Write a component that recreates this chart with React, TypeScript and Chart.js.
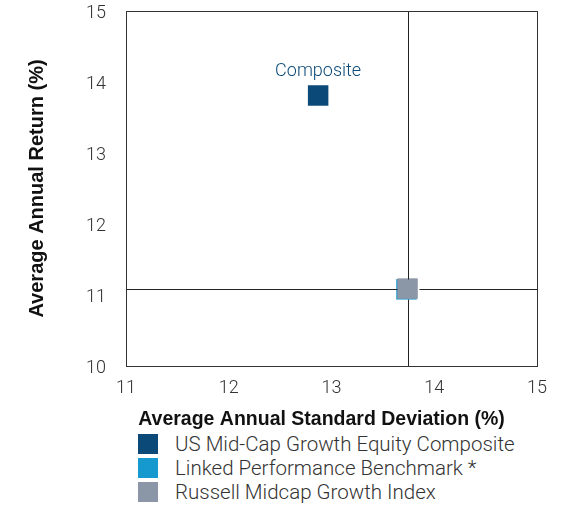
import React, { useEffect, useRef } from "react";
import { Chart, registerables } from "chart.js";

Chart.register(...registerables);

const seriesNames = [
  "US Mid-Cap Growth Equity Composite",
  "Linked Performance Benchmark *",
  "Russell Midcap Growth Index",
];
const seriesColors = ["#0b4a78", "#1699cf", "#8b97a7"];
const stdDev = [12.87, 13.73, 13.74];
const avgReturn = [13.81, 11.08, 11.09];
const xTicks = [11, 12, 13, 14, 15];
const yTicks = [10, 11, 12, 13, 14, 15];
const pointLabel = "Composite";
const xTitle = "Average Annual Standard Deviation (%)";
const yTitle = "Average Annual Return (%)";

const LIGHT = "Roboto, 'Liberation Sans', Arial, sans-serif";
const BOLD = "'Liberation Sans', Arial, sans-serif";

export default function App() {
  const ref = useRef<HTMLCanvasElement | null>(null);

  useEffect(() => {
    if (!ref.current) return;
    const plugin = {
      id: "decor",
      afterDatasetsDraw(chart: any) {
        const { ctx, chartArea, scales } = chart;
        const xs = scales.x;
        const ys = scales.y;
        ctx.save();
        // crosshair through the index point
        ctx.strokeStyle = "#222";
        ctx.lineWidth = 1;
        const cx = Math.round(xs.getPixelForValue(stdDev[2])) + 0.5;
        const cy = Math.round(ys.getPixelForValue(avgReturn[2])) + 0.5;
        ctx.beginPath();
        ctx.moveTo(cx, chartArea.top);
        ctx.lineTo(cx, cy - 10);
        ctx.moveTo(cx, cy + 10);
        ctx.lineTo(cx, chartArea.bottom);
        ctx.moveTo(chartArea.left, cy);
        ctx.lineTo(cx - 11, cy);
        ctx.moveTo(cx + 11, cy);
        ctx.lineTo(chartArea.right, cy);
        ctx.stroke();
        // frame
        ctx.strokeStyle = "#333";
        ctx.strokeRect(
          Math.round(chartArea.left) + 0.5,
          Math.round(chartArea.top) + 0.5,
          Math.round(chartArea.right - chartArea.left),
          Math.round(chartArea.bottom - chartArea.top)
        );
        // data label
        ctx.fillStyle = seriesColors[0];
        ctx.font = `300 18px ${LIGHT}`;
        ctx.textAlign = "center";
        ctx.textBaseline = "alphabetic";
        ctx.fillText(
          pointLabel,
          xs.getPixelForValue(stdDev[0]),
          ys.getPixelForValue(avgReturn[0]) - 19
        );
        // axis titles
        ctx.fillStyle = "#111";
        ctx.font = `bold 19.5px ${BOLD}`;
        ctx.fillText(
          xTitle,
          chartArea.left + (chartArea.right - chartArea.left) / 2 - 10,
          chartArea.bottom + 59
        );
        ctx.font = `bold 20px ${BOLD}`;
        ctx.translate(43, (chartArea.top + chartArea.bottom) / 2);
        ctx.rotate(-Math.PI / 2);
        ctx.fillText(yTitle, 0, 0);
        ctx.restore();
      },
    };

    const chart = new Chart(ref.current, {
      type: "scatter",
      data: {
        datasets: [2, 1, 0].map((i) => ({
          label: seriesNames[i],
          data: [{ x: stdDev[i], y: avgReturn[i] }],
          backgroundColor: seriesColors[i],
          borderColor: seriesColors[i],
          borderWidth: 0,
          pointStyle: "rect",
          pointRadius: 14.5,
          pointHoverRadius: 14.5,
        })),
      },
      options: {
        animation: false,
        responsive: false,
        maintainAspectRatio: false,
        layout: {
          autoPadding: false,
          padding: { top: 11, right: 30, left: 0, bottom: 0 },
        },
        plugins: {
          legend: { display: false },
          tooltip: { enabled: false },
        },
        scales: {
          x: {
            type: "linear",
            min: xTicks[0],
            max: xTicks[xTicks.length - 1],
            afterBuildTicks: (s: any) => {
              s.ticks = xTicks.map((v) => ({ value: v }));
            },
            grid: { display: false, drawTicks: false },
            border: { display: false },
            ticks: {
              color: "#333",
              font: { family: LIGHT, size: 18, weight: "300" },
              padding: 12,
            },
            afterFit: (s: any) => {
              s.height = 64;
              s.paddingLeft = 0;
              s.paddingRight = 0;
            },
          },
          y: {
            type: "linear",
            min: yTicks[0],
            max: yTicks[yTicks.length - 1],
            afterBuildTicks: (s: any) => {
              s.ticks = yTicks.map((v) => ({ value: v }));
            },
            grid: { display: false, drawTicks: false },
            border: { display: false },
            ticks: {
              color: "#333",
              font: { family: LIGHT, size: 18, weight: "300" },
              padding: 20,
              labelOffset: 2,
            },
            afterFit: (s: any) => {
              s.width = 126;
              s.paddingTop = 0;
              s.paddingBottom = 0;
            },
          },
        },
      },
      plugins: [plugin],
    } as any);
    return () => chart.destroy();
  }, []);

  return (
    <div
      style={{
        position: "absolute",
        left: 0,
        top: 0,
        width: 567,
        height: 511,
        background: "#fff",
        fontFamily: LIGHT,
      }}
    >
      <canvas ref={ref} width={567} height={430} style={{ display: "block" }} />
      <div style={{ position: "absolute", left: 138, top: 434 }}>
        {[0, 1, 2].map((i) => (
          <div
            key={i}
            style={{
              display: "flex",
              alignItems: "center",
              height: 20,
              marginBottom: 4,
              fontSize: 20.5,
              fontWeight: 300,
              color: "#333",
              whiteSpace: "nowrap",
            }}
          >
            <span
              style={{
                display: "inline-block",
                flex: "none",
                width: 20,
                height: 20,
                background: seriesColors[i],
                marginRight: 17,
              }}
            />
            <span>{seriesNames[i]}</span>
          </div>
        ))}
      </div>
    </div>
  );
}
